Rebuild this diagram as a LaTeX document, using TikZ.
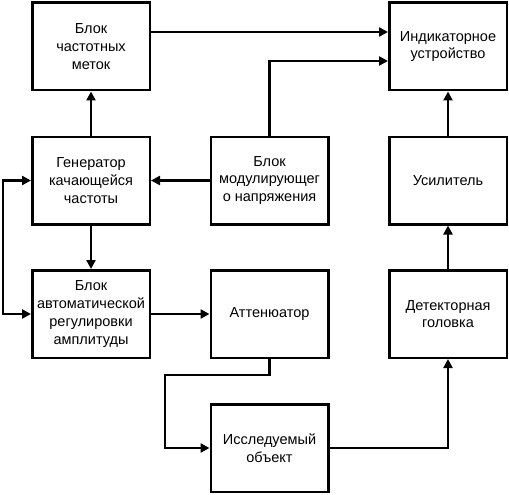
\documentclass[tikz,border=0pt]{standalone}
\usepackage{fontspec}
\setmainfont{Liberation Sans}
\usetikzlibrary{arrows.meta}
\begin{document}
\begin{tikzpicture}[x=1pt,y=-1pt,
  blk/.style={draw,line width=2.5pt,minimum width=117.5pt,minimum height=87.5pt,
    align=center,inner sep=0pt,font=\fontsize{14.5}{17.7}\selectfont},
  con/.style={line width=2.5pt,-{Triangle[length=9pt,width=9pt]}},
  con2/.style={line width=2.5pt,{Triangle[length=9pt,width=9pt]}-{Triangle[length=9pt,width=9pt]}}]
\useasboundingbox (0,0) rectangle (509,495);
\node[blk] (mark) at (91,46.5) {Блок\\частотных\\меток};
\node[blk] (gen) at (91,180.5) {Генератор\\качающейся\\частоты};
\node[blk] (aru) at (91,314) {Блок\\автоматической\\регулировки\\амплитуды};
\node[blk] (mod) at (269.5,180.5) {Блок\\модулирующег\\о напряжения};
\node[blk] (att) at (269.5,314) {Аттенюатор};
\node[blk] (obj) at (269.5,448) {Исследуемый\\объект};
\node[blk] (ind) at (448,46.5) {Индикаторное\\устройство};
\node[blk] (amp) at (448,180.5) {Усилитель};
\node[blk] (det) at (448,314) {Детекторная\\головка};
\coordinate (yA) at (0,32);
\coordinate (yB) at (0,61);
\coordinate (xL) at (3,0);
\coordinate (yC) at (0,375);
\coordinate (xC) at (165,0);
\draw[con] (mark.east |- yA) -- (ind.west |- yA);
\draw[con] (mod.north) -- (mod.north |- yB) -- (ind.west |- yB);
\draw[con] (gen.north) -- (mark.south);
\draw[con] (mod.west) -- (gen.east);
\draw[con] (gen.south) -- (aru.north);
\draw[con2] (gen.west) -- (gen.west -| xL) -- (aru.west -| xL) -- (aru.west);
\draw[con] (aru.east) -- (att.west);
\draw[con] (att.south) -- (att.south |- yC) -- (xC |- yC) -- (xC |- obj.west) -- (obj.west);
\draw[con] (obj.east) -| (det.south);
\draw[con] (det.north) -- (amp.south);
\draw[con] (amp.north) -- (ind.south);
\end{tikzpicture}
\end{document}
